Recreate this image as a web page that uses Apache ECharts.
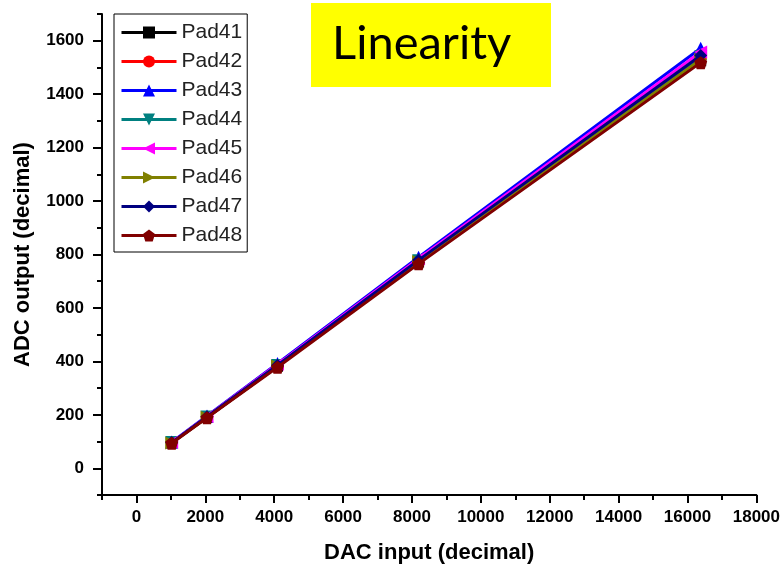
<!DOCTYPE html>
<html><head><meta charset="utf-8">
<script src="https://cdn.jsdelivr.net/npm/echarts@6/dist/echarts.min.js"></script>
<style>html,body{margin:0;padding:0;background:#fff}#c{width:783px;height:570px}</style>
</head><body><div id="c"></div>
<script>
const dacInput = [1024, 2048, 4096, 8192, 16384];
const pad41 = [95, 190, 382, 772, 1525];
const pad42 = [96, 191, 384, 775, 1535];
const pad43 = [98, 196, 392, 790, 1572];
const pad44 = [96, 192, 385, 777, 1540];
const pad45 = [97, 194, 389, 784, 1558];
const pad46 = [95, 191, 383, 774, 1530];
const pad47 = [96, 193, 386, 779, 1545];
const pad48 = [94, 189, 378, 765, 1518];
const seriesNames = ['Pad41','Pad42','Pad43','Pad44','Pad45','Pad46','Pad47','Pad48'];
const xTickLabels = [0,2000,4000,6000,8000,10000,12000,14000,16000,18000];
const xMinorTicks = [-1000,1000,3000,5000,7000,9000,11000,13000,15000,17000];
const yTickLabels = [0,200,400,600,800,1000,1200,1400,1600];
const yMinorTicks = [-100,100,300,500,700,900,1100,1300,1500,1700];

const allData = [pad41,pad42,pad43,pad44,pad45,pad46,pad47,pad48];
const colors = ['#000000','#ff0000','#0000ff','#008080','#ff00ff','#808000','#000080','#800000'];
const pentagon = 'path://M0,-10L9.5,-3.1L5.9,8.1L-5.9,8.1L-9.5,-3.1Z';
const symbols = ['rect','circle','triangle','triangle','triangle','triangle','diamond',pentagon];
const rotates = [0,0,0,180,90,-90,0,0];
const sizes = [11,12,13,13,13,13,13,13];
const FONT = 'Liberation Sans, Arial, sans-serif';
const fmt = v => String(v);

const chart = echarts.init(document.getElementById('c'), null, {renderer:'canvas'});
const baseAxis = (min,max) => ({
  type:'value', min:min, max:max, splitLine:{show:false},
  axisLine:{show:true, onZero:false, lineStyle:{color:'#000', width:2}},
});
const series = seriesNames.map((n,i)=>({
  name:n, type:'line', xAxisIndex:0, yAxisIndex:0,
  data: dacInput.map((x,j)=>[x, allData[i][j]]),
  symbol: symbols[i], symbolRotate: rotates[i], symbolSize: sizes[i],
  lineStyle:{color:colors[i], width:3}, itemStyle:{color:colors[i]}, color:colors[i],
  z: 2+i
}));
chart.setOption({
  animation:false,
  backgroundColor:'#fff',
  graphic:[
    {type:'rect', left:311, top:3, shape:{width:240, height:84}, style:{fill:'#ffff00'}, z:10},
    {type:'text', left:332, top:20, style:{text:'Linearity', font:'47px Lato, "Open Sans", sans-serif', fill:'#000'}, z:11}
  ],
  grid:{left:102, right:25, top:14, bottom:75, containLabel:false},
  legend:{
    orient:'vertical', left:114, top:14, data:seriesNames,
    backgroundColor:'#fff', borderColor:'#000', borderWidth:1,
    padding:[7,5,5,6], itemWidth:55, itemHeight:15, itemGap:6,
    lineStyle:{width:3},
    textStyle:{fontFamily:FONT, fontSize:21, color:'#222', lineHeight:23}
  },
  xAxis:[
    Object.assign(baseAxis(-1000,18000),{
      name:'DAC input (decimal)', nameLocation:'middle', nameGap:47,
      nameTextStyle:{fontFamily:FONT, fontSize:22, fontWeight:'bold', color:'#000'},
      axisTick:{show:true, inside:false, length:8, lineStyle:{width:2,color:'#000'}, customValues:xTickLabels},
      axisLabel:{show:true, margin:14, formatter:fmt, customValues:xTickLabels, fontFamily:FONT, fontSize:17, fontWeight:'bold', color:'#000'}
    }),
    Object.assign(baseAxis(-1000,18000),{
      position:'bottom',
      axisLine:{show:false, onZero:false},
      axisTick:{show:true, length:5, lineStyle:{width:2,color:'#000'}, customValues:xMinorTicks},
      axisLabel:{show:false}
    })
  ],
  yAxis:[
    Object.assign(baseAxis(-100,1700),{
      name:'ADC output (decimal)', nameLocation:'middle', nameGap:68,
      nameTextStyle:{fontFamily:FONT, fontSize:22, fontWeight:'bold', color:'#000'},
      axisTick:{show:true, inside:false, length:9, lineStyle:{width:2,color:'#000'}, customValues:yTickLabels},
      axisLabel:{show:true, margin:18, formatter:fmt, customValues:yTickLabels, fontFamily:FONT, fontSize:17, fontWeight:'bold', color:'#000'}
    }),
    Object.assign(baseAxis(-100,1700),{
      position:'left', axisLine:{show:false, onZero:false},
      axisTick:{show:true, length:5, lineStyle:{width:2,color:'#000'}, customValues:yMinorTicks},
      axisLabel:{show:false}
    })
  ],
  series: series
});
</script></body></html>
